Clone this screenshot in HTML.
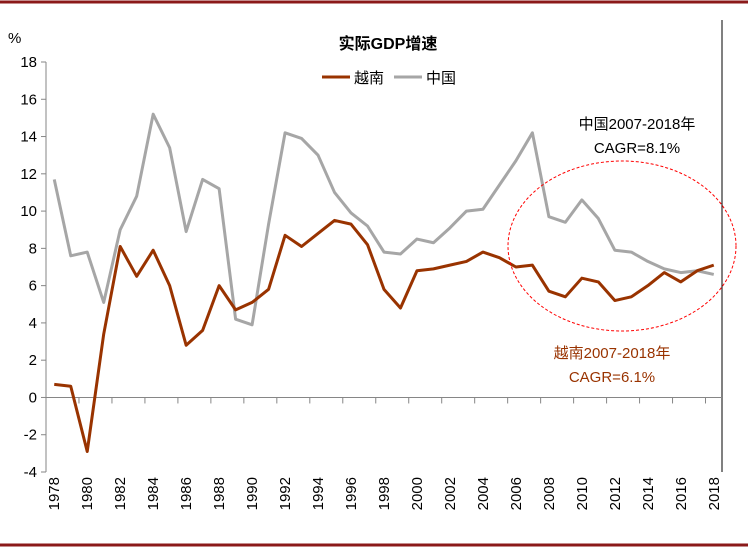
<!DOCTYPE html>
<html><head><meta charset="utf-8"><style>
body{margin:0;background:#fff;}
svg{display:block;font-family:"Liberation Sans","Noto Sans CJK SC",sans-serif;}
</style></head><body>
<svg id="c" width="748" height="548">
<line x1="0" y1="2" x2="748" y2="2" stroke="#8b1a1a" stroke-width="3"/>
<line x1="0" y1="545" x2="748" y2="545" stroke="#8b1a1a" stroke-width="3"/>
<text x="8" y="43" font-size="15">%</text>
<text x="388" y="49" font-size="16" font-weight="bold" text-anchor="middle">实际GDP增速</text>
<g>
<line x1="322" y1="77" x2="350" y2="77" stroke="#993300" stroke-width="3"/>
<text x="354" y="83" font-size="15">越南</text>
<line x1="394" y1="77" x2="422" y2="77" stroke="#a6a6a6" stroke-width="3"/>
<text x="426" y="83" font-size="15">中国</text>
</g>
<line x1="722" y1="20" x2="722" y2="472" stroke="#000" stroke-width="1"/>
<g id="axes"></g>
<g id="series"></g>
<ellipse cx="622" cy="246" rx="114" ry="85" fill="none" stroke="#ff0000" stroke-width="1" stroke-dasharray="3,2"/>
<text x="637" y="129" font-size="15" text-anchor="middle" fill="#000">中国2007-2018年</text>
<text x="637" y="153" font-size="15" text-anchor="middle" fill="#000">CAGR=8.1%</text>
<text x="612" y="358" font-size="15" text-anchor="middle" fill="#993300">越南2007-2018年</text>
<text x="612" y="382" font-size="15" text-anchor="middle" fill="#993300">CAGR=6.1%</text>
</svg>
<script>
const years=[1978,1979,1980,1981,1982,1983,1984,1985,1986,1987,1988,1989,1990,1991,1992,1993,1994,1995,1996,1997,1998,1999,2000,2001,2002,2003,2004,2005,2006,2007,2008,2009,2010,2011,2012,2013,2014,2015,2016,2017,2018];
const china=[11.7,7.6,7.8,5.1,9.0,10.8,15.2,13.4,8.9,11.7,11.2,4.2,3.9,9.3,14.2,13.9,13.0,11.0,9.9,9.2,7.8,7.7,8.5,8.3,9.1,10.0,10.1,11.4,12.7,14.2,9.7,9.4,10.6,9.6,7.9,7.8,7.3,6.9,6.7,6.8,6.6];
const vietnam=[0.7,0.6,-2.9,3.4,8.1,6.5,7.9,6.0,2.8,3.6,6.0,4.7,5.1,5.8,8.7,8.1,8.8,9.5,9.3,8.2,5.8,4.8,6.8,6.9,7.1,7.3,7.8,7.5,7.0,7.1,5.7,5.4,6.4,6.2,5.2,5.4,6.0,6.7,6.2,6.8,7.1];
const yTicks=[-4,-2,0,2,4,6,8,10,12,14,16,18];
const NS="http://www.w3.org/2000/svg";
const X0=46,X1=722,Y0=472,Y1=62,ymin=-4,ymax=18;
const bw=(X1-X0)/years.length;
function x(i){return X0+bw*(i+0.5);}
function y(v){return Y0-(v-ymin)/(ymax-ymin)*(Y0-Y1);}
function mk(t,a,p){const e=document.createElementNS(NS,t);for(const k in a)e.setAttribute(k,a[k]);p.appendChild(e);return e;}
const ax=document.getElementById('axes');
const yl=mk('line',{x1:X0,y1:Y1,x2:X0,y2:Y0,stroke:'#868686','stroke-width':1},ax);


yTicks.forEach(v=>{
 const t=mk('line',{x1:X0-5,y1:y(v),x2:X0,y2:y(v),stroke:'#868686'},ax);
 
 
 const l=mk('text',{x:X0-9,y:y(v)+5,'font-size':15,'text-anchor':'end'},ax);
 l.textContent=v;
 
 
});
const xl=mk('line',{x1:X0,y1:y(0),x2:X1,y2:y(0),stroke:'#868686'},ax);


for(let i=2;i<=years.length;i+=2){
 const t=mk('line',{x1:X0+bw*i,y1:y(0),x2:X0+bw*i,y2:y(0)+6,stroke:'#868686'},ax);
 
 
}
years.forEach((yr,i)=>{
 if(i%2)return;
 const l=mk('text',{x:0,y:0,'font-size':15,'text-anchor':'end',transform:`translate(${x(i)+5},477) rotate(-90)`},ax);
 l.textContent=yr;
 
 
});
const sg=document.getElementById('series');
function line(d,c,n){
 const p=mk('polyline',{points:d.map((v,i)=>x(i)+','+y(v)).join(' '),fill:'none',stroke:c,'stroke-width':3,'stroke-linejoin':'round'},sg);
 
 
}
line(china,'#a6a6a6','china-line');
line(vietnam,'#993300','vietnam-line');
</script>
</body></html>
